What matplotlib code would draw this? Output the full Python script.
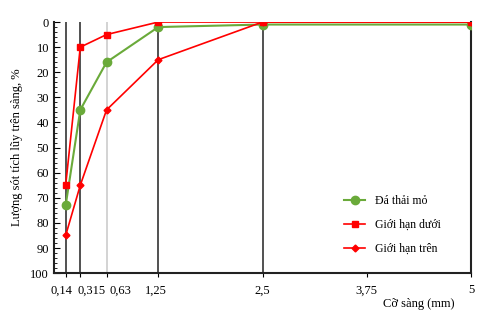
import matplotlib
matplotlib.use('Agg')
import matplotlib.pyplot as plt
from matplotlib.ticker import MultipleLocator

plt.rcParams['font.family'] = ['Liberation Serif', 'DejaVu Serif']

sieve = [0.14, 0.315, 0.63, 1.25, 2.5, 5]
da_thai_mo = [73, 35, 16, 2, 1, 1]
gioi_han_duoi = [65, 10, 5, 0, 0, 0]
gioi_han_tren = [85, 65, 35, 15, 0, 0]
tick_pos = [0.14, 0.315, 0.63, 1.25, 2.5, 3.75, 5]
tick_labels = ['0,14', '0,315', '0,63', '1,25', '2,5', '3,75', '5']
# small nudges (points) so the crowded labels near 0 don't collide
label_shift = [-3, 8, 10, -2, 0, 0, 0]

fig = plt.figure(figsize=(5, 3.24), dpi=100)
ax = fig.add_axes([0.108, 0.157, 0.834, 0.775])

# vertical reference lines at sieve sizes
for s in [0.14, 0.315, 1.25, 2.5]:
    ax.axvline(s, color='#333333', lw=1.2, zorder=1)
ax.axvline(0.63, color='#cccccc', lw=1.2, zorder=1)

ax.plot(sieve, da_thai_mo, color='#6aaa3a', marker='o', ms=6, lw=1.5,
        label='Đá thải mỏ', zorder=3)
ax.plot(sieve, gioi_han_duoi, color='#ff0000', marker='s', ms=4.5, lw=1.2,
        label='Giới hạn dưới', zorder=4)
ax.plot(sieve, gioi_han_tren, color='#ff0000', marker='D', ms=3.5, lw=1.2,
        label='Giới hạn trên', zorder=4)

ax.set_xlim(0, 5)
ax.set_ylim(100, 0)
ax.set_xticks(tick_pos)
ax.set_xticklabels([])
for x, lab, dx in zip(tick_pos, tick_labels, label_shift):
    ax.annotate(lab, (x, 0), xycoords=ax.get_xaxis_transform(),
                xytext=(dx, -8), textcoords='offset points',
                ha='center', va='top', fontsize=9)
ax.yaxis.set_major_locator(MultipleLocator(10))
ax.yaxis.set_minor_locator(MultipleLocator(2))
ax.tick_params(axis='y', labelsize=9, direction='in', length=4)
ax.tick_params(axis='y', which='minor', direction='in', length=2)
ax.tick_params(axis='x', direction='out', length=3)
for sp in ax.spines.values():
    sp.set_linewidth(1.5)
    sp.set_color('#222222')
ax.spines['top'].set_visible(False)

ax.set_ylabel('Lượng sót tích lũy trên sàng, %', fontsize=9)
ax.yaxis.set_label_coords(-0.075, 0.5)
ax.set_xlabel('Cỡ sàng (mm)', fontsize=9)
ax.xaxis.set_label_coords(0.875, -0.1)

ax.legend(loc='lower left', bbox_to_anchor=(0.67, 0.03), frameon=False,
          fontsize=8.5, labelspacing=1.0, handlelength=1.8)

fig.savefig('out.png', dpi=100)
